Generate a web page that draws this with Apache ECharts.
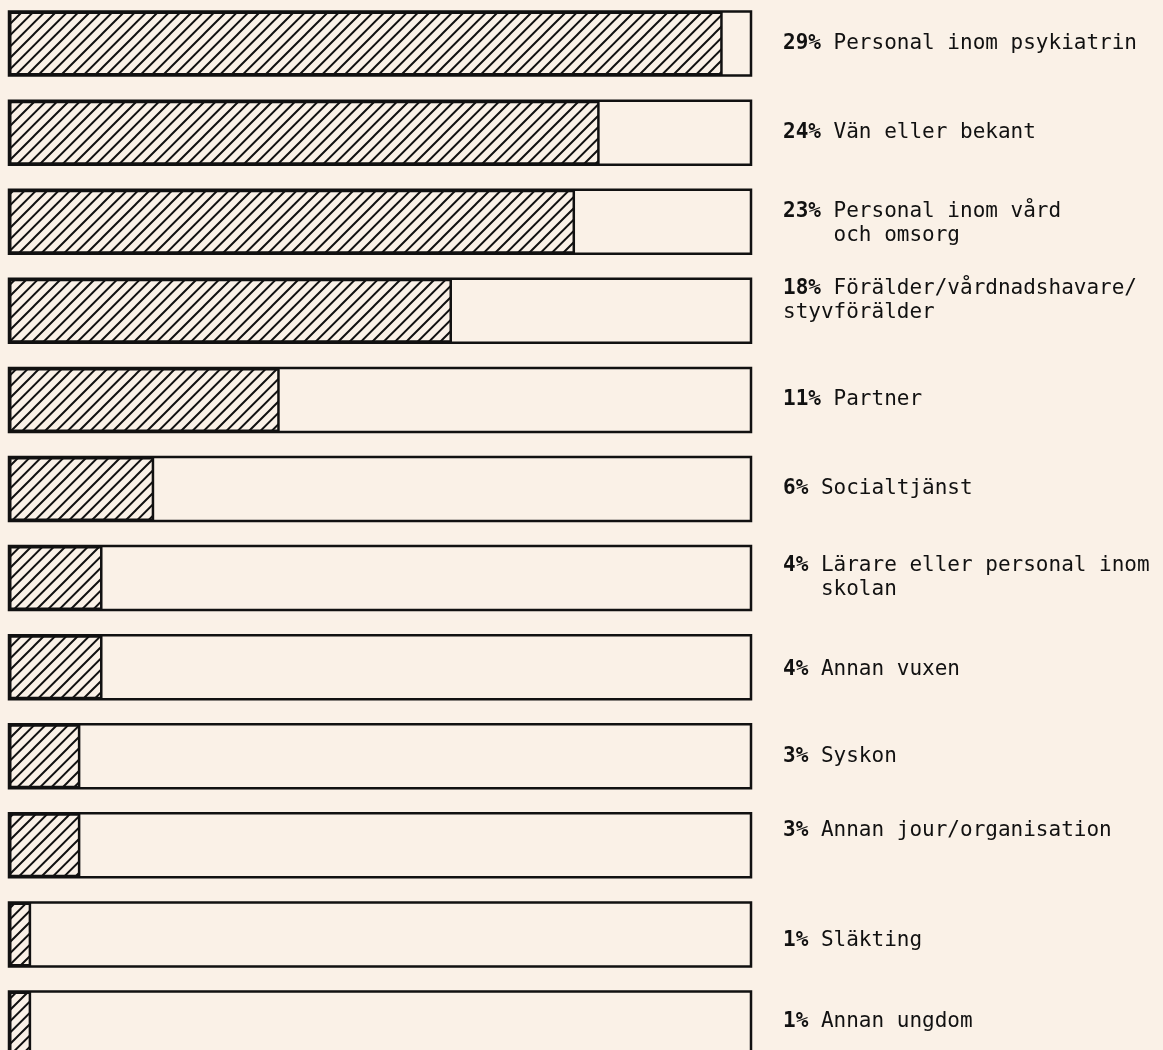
<!DOCTYPE html>
<html>
<head>
<meta charset="utf-8">
<script src="https://cdn.jsdelivr.net/npm/echarts@6/dist/echarts.min.js"></script>
<style>
html, body { margin: 0; padding: 0; background: #faf1e7; }
#chart { width: 1163px; height: 1050px; }
</style>
</head>
<body>
<div id="chart"></div>
<script>
// kategorier (uppifrån och ned)
const categories = [
    'Personal inom psykiatrin',
    'Vän eller bekant',
    'Personal inom vård\n    och omsorg',
    'Förälder/vårdnadshavare/\nstyvförälder',
    'Partner',
    'Socialtjänst',
    'Lärare eller personal inom\n   skolan',
    'Annan vuxen',
    'Syskon',
    'Annan jour/organisation',
    'Släkting',
    'Annan ungdom'
];
const percentLabels = ['29%', '24%', '23%', '18%', '11%', '6%', '4%', '4%', '3%', '3%', '1%', '1%'];
// stapellängder
const values = [29, 24, 23, 18, 11, 5.9, 3.8, 3.8, 2.9, 2.9, 0.9, 0.9];
const scaleMax = 30.15;

// förskjutning av vissa etiketter (px, negativt = uppåt)
const labelShift = [0, 0, 2, -10, 0, 0, 0, 2, 0, -15, 6, -2];

const BG = '#faf1e7';
const INK = '#111111';
const FONT = '"DejaVu Sans Mono", "Liberation Mono", monospace';

// snedstreckat mönster, 3 linjer per 34 px
const makeHatch = () => {
    const size = 34;
    const step = size / 3;
    const c = document.createElement('canvas');
    c.width = size;
    c.height = size;
    const ctx = c.getContext('2d');
    ctx.fillStyle = BG;
    ctx.fillRect(0, 0, size, size);
    ctx.strokeStyle = INK;
    ctx.lineWidth = 2;
    ctx.beginPath();
    for (let k = 0; k <= 6; k++) {
        const s = k * step;
        ctx.moveTo(s + 3, -3);
        ctx.lineTo(s - size - 3, size + 3);
    }
    ctx.stroke();
    return c;
};

const myChart = echarts.init(document.getElementById('chart'));

const yData = categories.map((name, i) => {
    const s = labelShift[i];
    return {
        value: name,
        textStyle: {
            padding: s < 0 ? [0, 0, -2 * s, 0] : [2 * s, 0, 0, 0]
        }
    };
});

const option = {
    backgroundColor: BG,
    animation: false,
    grid: {
        left: 9,
        right: 412,
        top: -1,
        height: 1069,
        outerBoundsMode: 'none'
    },
    xAxis: {
        type: 'value',
        min: 0,
        max: scaleMax,
        show: false
    },
    yAxis: {
        type: 'category',
        inverse: true,
        position: 'right',
        data: yData,
        axisLine: { show: false },
        axisTick: { show: false },
        axisLabel: {
            margin: 32,
            align: 'left',
            fontFamily: FONT,
            fontSize: 21,
            color: INK,
            formatter: (value, index) => `{p|${percentLabels[index]}} {n|${value}}`,
            rich: {
                p: {
                    fontFamily: FONT,
                    fontSize: 21,
                    fontWeight: 'bold',
                    color: INK,
                    lineHeight: 24
                },
                n: {
                    fontFamily: FONT,
                    fontSize: 21,
                    color: INK,
                    lineHeight: 24
                }
            }
        }
    },
    series: [
        {
            type: 'bar',
            data: values,
            barWidth: 64,
            showBackground: true,
            backgroundStyle: {
                color: BG,
                borderColor: INK,
                borderWidth: 2.5
            },
            itemStyle: {
                color: { image: makeHatch(), repeat: 'repeat' },
                borderColor: INK,
                borderWidth: 2.5
            }
        }
    ]
};
option && myChart.setOption(option);
</script>
</body>
</html>
